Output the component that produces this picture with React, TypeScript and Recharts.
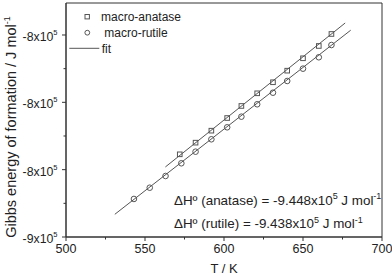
import React from "react";
import { ScatterChart, Scatter, XAxis, YAxis, ReferenceArea, Customized } from "recharts";

// measured points (T in K, Gibbs energy in J/mol)
const anataseT = [572, 582, 592, 602, 611, 621, 631, 640, 650, 660, 668];
const anataseG = [-837720, -835990, -834210, -832330, -830540, -828660, -827020, -825300, -823460, -821630, -819850];
const rutileT = [543, 553, 563, 573, 582, 592, 602, 611, 621, 631, 640, 650, 660, 668];
const rutileG = [-844350, -842680, -840940, -839050, -837330, -835490, -833710, -832130, -830290, -828570, -826830, -825000, -823310, -821490];

// fit line end points
const anataseFitT = [562.9, 676.7];
const anataseFitG = [-839600, -818220];
const rutileFitT = [530.9, 680.2];
const rutileFitG = [-846630, -819290];

const xMajorTicks = [500, 550, 600, 650, 700];
const xMinorTicks = [525, 575, 625, 675];
const yMajorTicks = [-850000, -840000, -830000, -820000];
const yMajorMantissa = ["-9", "-8", "-8", "-8"];
const yMinorTicks = [-845000, -835000, -825000];

const FONT = "'Liberation Sans', Arial, sans-serif";
const AXIS = "#333";
const MARK = "#555";
const TEXT = "#222";

const toPoints = (ts: number[], gs: number[]) => ts.map((t, i) => ({ t, g: gs[i] }));

const XTick = (props: any) => {
  const { x, y, payload } = props;
  const major = xMajorTicks.includes(payload.value);
  return (
    <g>
      <line x1={x} x2={x} y1={y} y2={y + (major ? 4 : 2.5)} stroke={AXIS} />
      {major && (
        <text x={x} y={y + 15.5} textAnchor="middle" fontFamily={FONT} fontSize={12.5} fill={TEXT}>
          {payload.value}
        </text>
      )}
    </g>
  );
};

const YTick = (props: any) => {
  const { x, y, payload } = props;
  const idx = yMajorTicks.indexOf(payload.value);
  const major = idx >= 0;
  return (
    <g>
      <line x1={x - (major ? 4 : 2.5)} x2={x} y1={y} y2={y} stroke={AXIS} />
      {major && (
        <text x={x - 8.5} y={y + 6} textAnchor="end" fontFamily={FONT} fontSize={12.3} fill={TEXT}>
          <tspan>{yMajorMantissa[idx]}x10</tspan>
          <tspan fontSize={7.5} dy={-6}>5</tspan>
        </text>
      )}
    </g>
  );
};

const Square = (props: any) => {
  const { cx, cy } = props;
  return <rect x={cx - 2.3} y={cy - 2.3} width={4.6} height={4.6} fill="none" stroke={MARK} strokeWidth={1} />;
};

const Circle = (props: any) => {
  const { cx, cy } = props;
  return <circle cx={cx} cy={cy} r={2.8} fill="none" stroke={MARK} strokeWidth={1} />;
};

const NoShape = () => <g />;

const Overlay = () => (
  <g fontFamily={FONT} fill={TEXT}>
    {/* legend */}
    <rect x={85} y={14.5} width={4.4} height={4.4} fill="none" stroke={MARK} />
    <text x={101} y={21.3} fontSize={12}>macro-anatase</text>
    <circle cx={87.3} cy={32.7} r={2.4} fill="none" stroke={MARK} />
    <text x={104.3} y={37} fontSize={12}>macro-rutile</text>
    <line x1={69.3} x2={99.3} y1={48.3} y2={48.3} stroke={MARK} />
    <text x={101.7} y={52.6} fontSize={12}>fit</text>

    {/* annotations */}
    <text x={174} y={204.8} fontSize={13.4}>
      <tspan>ΔHº (anatase) = -9.448x10</tspan>
      <tspan fontSize={9} dy={-5.5}>5</tspan>
      <tspan dy={5.5}> J mol</tspan>
      <tspan fontSize={9} dy={-5.5}>-1</tspan>
    </text>
    <text x={174} y={228} fontSize={13.4}>
      <tspan>ΔHº (rutile) = -9.438x10</tspan>
      <tspan fontSize={9} dy={-5.5}>5</tspan>
      <tspan dy={5.5}> J mol</tspan>
      <tspan fontSize={9} dy={-5.5}>-1</tspan>
    </text>

    {/* axis titles */}
    <text x={224} y={272.5} fontSize={13} textAnchor="middle">T / K</text>
    <text transform="translate(15.5,127) rotate(-90)" fontSize={14.5} textAnchor="middle">
      <tspan>Gibbs energy of formation / J mol</tspan>
      <tspan fontSize={9} dy={-6}>-1</tspan>
    </text>
  </g>
);

export default function App() {
  return (
    <div style={{ position: "absolute", left: 0, top: 0, width: 392, height: 276, background: "#fff" }}>
      <ScatterChart width={392} height={276} margin={{ top: 3, right: 10, bottom: 0, left: 0 }}>
        <XAxis
          type="number"
          dataKey="t"
          domain={[500, 700]}
          ticks={[...xMajorTicks, ...xMinorTicks].sort((a, b) => a - b)}
          interval={0}
          height={39}
          tickSize={0}
          tickMargin={0}
          tick={<XTick />}
          stroke={AXIS}
          allowDataOverflow
        />
        <YAxis
          type="number"
          dataKey="g"
          domain={[-850000, -815250]}
          ticks={[...yMajorTicks, ...yMinorTicks].sort((a, b) => a - b)}
          interval={0}
          width={66}
          tickSize={0}
          tickMargin={0}
          tick={<YTick />}
          stroke={AXIS}
          allowDataOverflow
        />
        <ReferenceArea x1={500} x2={700} y1={-850000} y2={-815250} fill="none" stroke={AXIS} strokeWidth={1} />
        <Scatter
          data={toPoints(anataseFitT, anataseFitG)}
          line={{ stroke: MARK, strokeWidth: 1 }}
          shape={<NoShape />}
          isAnimationActive={false}
        />
        <Scatter
          data={toPoints(rutileFitT, rutileFitG)}
          line={{ stroke: MARK, strokeWidth: 1 }}
          shape={<NoShape />}
          isAnimationActive={false}
        />
        <Scatter data={toPoints(anataseT, anataseG)} shape={<Square />} isAnimationActive={false} />
        <Scatter data={toPoints(rutileT, rutileG)} shape={<Circle />} isAnimationActive={false} />
        <Customized component={<Overlay />} />
      </ScatterChart>
    </div>
  );
}
